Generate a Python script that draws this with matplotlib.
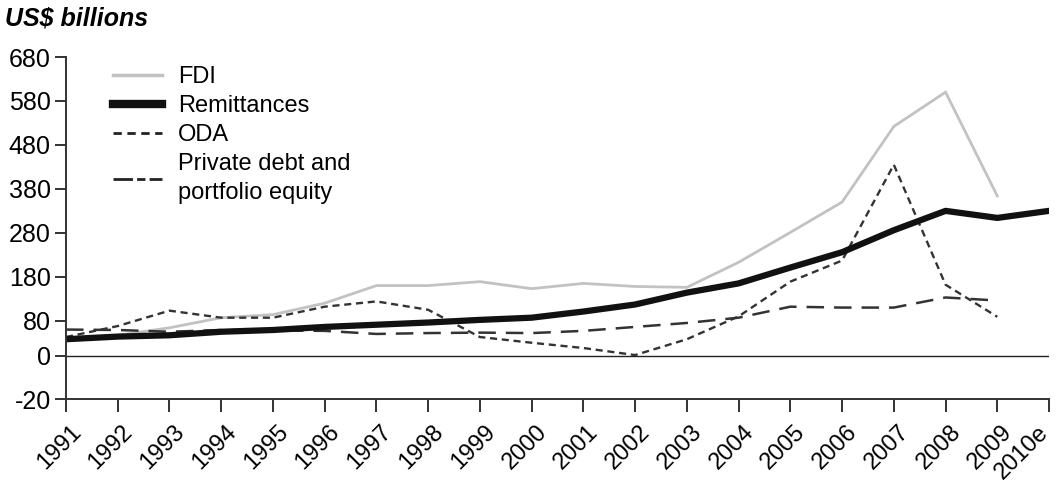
import matplotlib
matplotlib.use("Agg")
import matplotlib.pyplot as plt
from matplotlib.lines import Line2D
from matplotlib.transforms import ScaledTranslation

years = ["1991", "1992", "1993", "1994", "1995", "1996", "1997", "1998", "1999", "2000",
         "2001", "2002", "2003", "2004", "2005", "2006", "2007", "2008", "2009", "2010e"]

fdi = [37, 47, 64, 87, 94, 120, 160, 160, 169, 153, 165, 158, 156, 213, 281, 350, 522, 600, 364]
remittances = [38, 44, 47, 55, 59, 66, 71, 76, 82, 87, 101, 117, 144, 165, 201, 236, 286, 330, 314, 330]
oda = [60, 59, 55, 59, 58, 57, 50, 52, 53, 52, 57, 66, 75, 87, 112, 110, 110, 133, 126]
private_debt = [43, 68, 103, 87, 87, 112, 124, 105, 43, 30, 18, 2, 38, 90, 169, 217, 435, 162, 89]

ytick_vals = [-98, 0, 80, 180, 280, 380, 480, 580, 680]
ytick_labels = ["-20", "0", "80", "180", "280", "380", "480", "580", "680"]

FONT = ["Liberation Sans Narrow", "Liberation Sans", "DejaVu Sans"]
plt.rcParams["font.family"] = FONT

fig = plt.figure(figsize=(10.56, 4.84), dpi=100)
ax = fig.add_axes([0.0625, 0.1756, 0.9309, 0.7066])

x = list(range(len(years)))
ax.plot(x[:len(fdi)], fdi, color="#c2c2c2", lw=2.0, solid_joinstyle="miter")
ax.plot(x[:len(oda)], oda, color="#333333", lw=1.8, linestyle=(0, (7, 4)))
ax.plot(x[:len(private_debt)], private_debt, color="#333333", lw=1.7, linestyle=(0, (3, 2)))
ax.plot(x, remittances, color="#111111", lw=4.5, solid_capstyle="round", solid_joinstyle="round")
ax.axhline(0, color="#222222", lw=1.0)

ax.set_xlim(0, len(years) - 1)
ax.set_ylim(-98, 680)
ax.set_xticks(x)
ax.set_xticklabels(years, rotation=45, ha="right", va="top", rotation_mode="anchor", fontsize=17)
ax.set_yticks(ytick_vals)
ax.set_yticklabels(ytick_labels, fontsize=18)

for s in ["top", "right"]:
    ax.spines[s].set_visible(False)
for s in ["left", "bottom"]:
    ax.spines[s].set_color("#333333")
    ax.spines[s].set_linewidth(1.4)
ax.tick_params(axis="y", length=8, width=1.4, color="#333333", pad=3)
ax.tick_params(axis="x", length=9, width=1.4, color="#333333", pad=7)

xlabels = ax.get_xticklabels()
for i, lab in enumerate(xlabels):
    dx = 4 if i < len(xlabels) - 1 else -12
    lab.set_transform(lab.get_transform() + ScaledTranslation(dx / 100, 0, fig.dpi_scale_trans))

handles = [
    Line2D([], [], color="#c2c2c2", lw=2.5),
    Line2D([], [], color="#111111", lw=6),
    Line2D([], [], color="#222222", lw=2.0, linestyle=(0, (3, 2))),
    Line2D([], [], color="#222222", lw=2.0, linestyle=(0, (7, 1.5, 3, 1.5))),
]
labels = ["FDI", "Remittances", "ODA", "Private debt and\nportfolio equity"]
leg = ax.legend(handles, labels, loc="upper left", bbox_to_anchor=(0.026, 1.036), frameon=False,
                fontsize=17, handlelength=2.1, handletextpad=0.65, labelspacing=0.3)
for t in leg.get_texts():
    t.set_linespacing(1.4)

fig.text(0.005, 0.962, "US$ billions", fontsize=18, fontweight="bold", fontstyle="italic",
         ha="left", va="center", family=["Liberation Sans", "DejaVu Sans"])

fig.savefig("out.png", dpi=100)
